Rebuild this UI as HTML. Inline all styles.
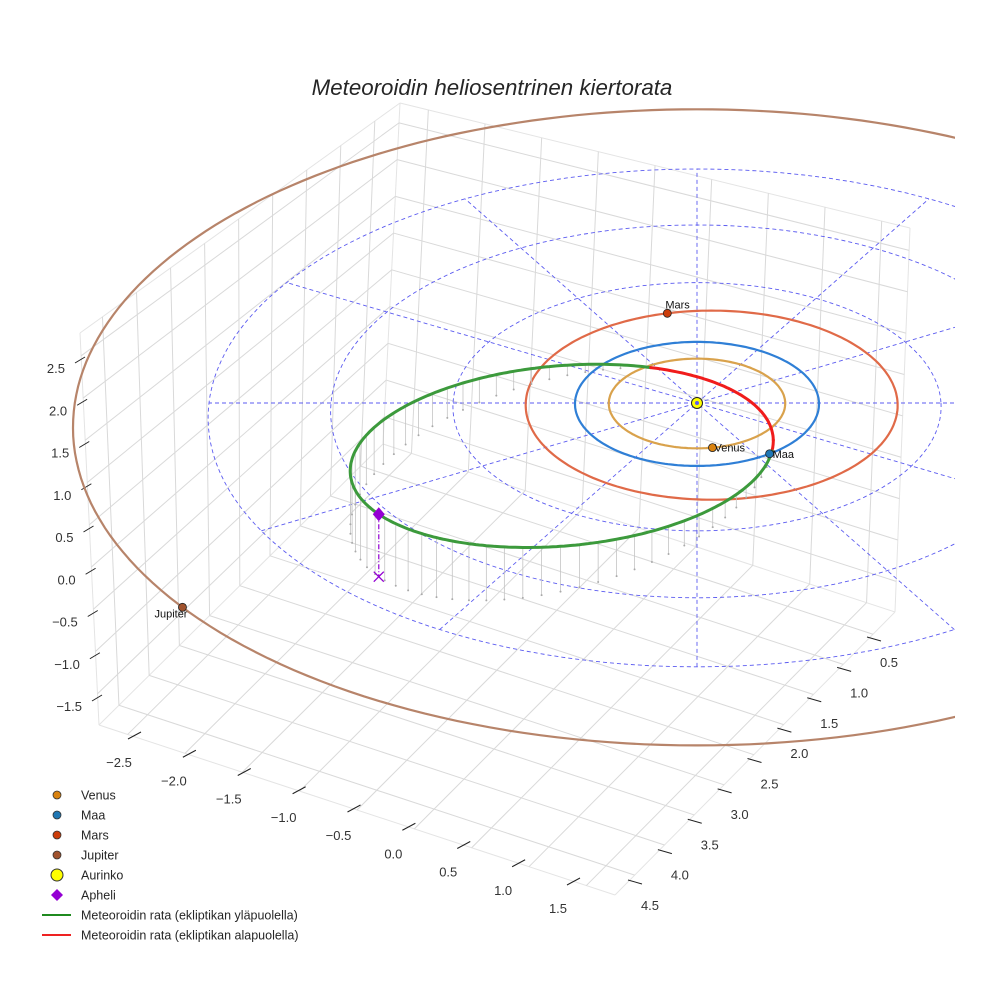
<!DOCTYPE html>
<html><head><meta charset="utf-8">
<style>
html,body{margin:0;padding:0;background:#fff;}
svg{display:block;font-family:"Liberation Sans",sans-serif;}
</style></head>
<body>
<svg id="chart" width="984" height="984" viewBox="0 0 984 984" xmlns="http://www.w3.org/2000/svg">
<rect width="984" height="984" fill="#fff"/>
<defs><clipPath id="clipA"><rect x="0" y="0" width="955" height="984"/></clipPath></defs>
<text x="492" y="95" text-anchor="middle" font-size="22.3" font-style="italic" fill="#262626">Meteoroidin heliosentrinen kiertorata</text>
<g id="box"></g>
<g id="ticks"></g>
<g id="plot" clip-path="url(#clipA)"></g>
<g id="legend"></g>
</svg>
<script>
// ---- data ----
const xTicks = [-2.5,-2.0,-1.5,-1.0,-0.5,0.0,0.5,1.0,1.5];
const yTicks = [0.5,1.0,1.5,2.0,2.5,3.0,3.5,4.0,4.5];
const zTicks = [-1.5,-1.0,-0.5,0.0,0.5,1.0,1.5,2.0,2.5];
const xLim = [-2.75,1.75];
const yLim = [0.13,4.83];
const zLim = [-1.87,2.77];
const planetNames = ["Venus","Maa","Mars","Jupiter"];
const planetRadius = [0.723,1.0,1.524,5.1];
const planetCenterShift = [0,0,0.12,0];
const planetAngle = [80,54,-104,142];
const gridRadii = [1,2,3,4];
const gridAngles = [0,30,60,90,120,150];
const orbitCenter = [-1.07,1.23];
const orbitAxisA = [1.69,-0.67];
const orbitAxisB = [0.0,1.68];
const orbitZ = [0.315,0.39,150];   // offset, amplitude, phase (deg)
const aphelionT = [148];

const NS="http://www.w3.org/2000/svg";
function mk(tag,attrs,parent){const e=document.createElementNS(NS,tag);for(const k in attrs)e.setAttribute(k,attrs[k]);parent.appendChild(e);return e;}
const fmt=v=>(v<0?"\u2212":"")+Math.abs(v).toFixed(1);

// ---- box geometry (screen) ----
const FL=[99,725],FF=[615,895],FR=[895,612],FB=[383,444],TL=[80,333],TB=[400,103],TR=[910,228];
const lerp=(a,b,t)=>[a[0]+(b[0]-a[0])*t,a[1]+(b[1]-a[1])*t];
const fx=x=>(x-xLim[0])/(xLim[1]-xLim[0]);
const fy=y=>(yLim[1]-y)/(yLim[1]-yLim[0]);
const fz=z=>(z-zLim[0])/(zLim[1]-zLim[0]);
const box=document.getElementById('box');
function gl(a,b,name,col){const l=mk('line',{x1:a[0],y1:a[1],x2:b[0],y2:b[1],stroke:col||'#d9d9d9','stroke-width':1},box);
}
[[FL,FB],[FB,FR],[FL,FF],[FF,FR],[FL,TL],[FB,TB],[FR,TR],[TL,TB],[TB,TR]].forEach(p=>gl(p[0],p[1],'pane-edge','#e4e4e4'));
xTicks.forEach(x=>{const t=fx(x);
  gl(lerp(FL,FF,t),lerp(FB,FR,t),'floor-gridline-x');
  gl(lerp(FB,FR,t),lerp(TB,TR,t),'back-gridline-x');});
yTicks.forEach(y=>{const t=fy(y);
  gl(lerp(FF,FR,t),lerp(FL,FB,t),'floor-gridline-y');
  gl(lerp(FL,FB,t),lerp(TL,TB,t),'left-gridline-y');});
zTicks.forEach(z=>{const t=fz(z);
  const l0=lerp(FL,TL,t),b0=lerp(FB,TB,t),r0=lerp(FR,TR,t);
  gl(l0,b0,'left-gridline-z');gl(b0,r0,'back-gridline-z');});

// ---- ticks ----
const tk=document.getElementById('ticks');
function tickLab(a,d,lp,txt,anchor,name){
  const l=mk('line',{x1:a[0],y1:a[1],x2:a[0]+d[0],y2:a[1]+d[1],stroke:'#222','stroke-width':1},tk);
  
  const t=mk('text',{x:a[0]+lp[0],y:a[1]+lp[1],'text-anchor':anchor,'font-size':13,fill:'#333'},tk);
  t.textContent=txt;}
xTicks.forEach(x=>{const t=(x+2.5)/4;const a=lerp([141,732],[580,878],t);tickLab(a,[-13,7],[-22,35],fmt(x),'middle','x-axis');});
yTicks.forEach(y=>{const t=(4.5-y)/4;const a=lerp([628,880],[867,637],t);tickLab(a,[14,4],[22,30],fmt(y),'middle','y-axis');});
zTicks.forEach(z=>{const t=(z+1.5)/4;const a=lerp([102,695],[85,357],t);tickLab(a,[-10,6],[-20,16],fmt(z),'end','z-axis');});

// ---- projection ----
const SX=697,SY=403,KX=122,KY=62,KZ=85,PK=0.015;
function proj(u,v,z){const s=1/(1-PK*v);return [SX+u*KX*s,SY+(v*KY-z*KZ)*s];}
function polar(r,deg){const a=deg*Math.PI/180;return [r*Math.cos(a),r*Math.sin(a)];}
const plot=document.getElementById('plot');
function circlePath(r,cu){cu=cu||0;let d='';for(let i=0;i<=240;i++){const p=polar(r,i*1.5);const q=proj(p[0]+cu,p[1],0);d+=(i?'L':'M')+q[0].toFixed(1)+','+q[1].toFixed(1);}return d+'Z';}

gridRadii.forEach(r=>{const p=mk('path',{d:circlePath(r),fill:'none',stroke:'#5b5bf0','stroke-width':0.9,'stroke-dasharray':'4,3'},plot);
  });
const rMax=gridRadii[gridRadii.length-1];
gridAngles.forEach(a=>{const p1=polar(rMax,a),p2=polar(-rMax,a);const A=proj(p1[0],p1[1],0),B=proj(p2[0],p2[1],0);
  const l=mk('line',{x1:A[0],y1:A[1],x2:B[0],y2:B[1],stroke:'#5b5bf0','stroke-width':0.9,'stroke-dasharray':'4,3'},plot);
  });

const orbitCols=['#d9a24c','#2f7fd6','#e06a48','#b7846a'];
const planetCols=['#d9820f','#1f77b4','#cc3d0a','#a0522d'];
planetRadius.forEach((r,i)=>{const p=mk('path',{d:circlePath(r,planetCenterShift[i]),fill:'none',stroke:orbitCols[i],'stroke-width':2.2},plot);
  });

function orbitPt(tdeg){const t=tdeg*Math.PI/180;
  const u=orbitCenter[0]+orbitAxisA[0]*Math.cos(t)+orbitAxisB[0]*Math.sin(t);
  const v=orbitCenter[1]+orbitAxisA[1]*Math.cos(t)+orbitAxisB[1]*Math.sin(t);
  const z=orbitZ[0]+orbitZ[1]*Math.cos((tdeg-orbitZ[2])*Math.PI/180);return [u,v,z];}
for(let t=0;t<360;t+=5){const o=orbitPt(t);if(o[2]<=0.03)continue;const A=proj(o[0],o[1],o[2]),B=proj(o[0],o[1],0);
  const l=mk('line',{x1:A[0],y1:A[1],x2:B[0],y2:B[1],stroke:'#c4c4c4','stroke-width':0.8},plot);
  
  const c=mk('circle',{cx:B[0],cy:B[1],r:1,fill:'#aaa'},plot);
  }
let seg=[],sign=null;
function flush(){if(seg.length>1){const d=seg.map((q,i)=>(i?'L':'M')+q[0].toFixed(1)+','+q[1].toFixed(1)).join('');
  const p=mk('path',{d:d,fill:'none',stroke:sign?'#3c9a3c':'#f01c1c','stroke-width':3,'stroke-linecap':'round'},plot);
  }}
for(let t=0;t<=360;t+=1){const o=orbitPt(t);const s=o[2]>=0;const q=proj(o[0],o[1],o[2]);
  if(sign===null)sign=s;
  if(s!==sign){seg.push(q);flush();seg=[q];sign=s;}else seg.push(q);}
flush();

const ap=orbitPt(aphelionT[0]);const AP=proj(ap[0],ap[1],ap[2]),AX=proj(ap[0],ap[1],0);
let e=mk('line',{x1:AP[0],y1:AP[1],x2:AX[0],y2:AX[1],stroke:'#9400d3','stroke-width':1.2,'stroke-dasharray':'5,2,1,2'},plot);

e=mk('path',{d:`M${AX[0]-5},${AX[1]-5}L${AX[0]+5},${AX[1]+5}M${AX[0]-5},${AX[1]+5}L${AX[0]+5},${AX[1]-5}`,stroke:'#9400d3','stroke-width':1.3},plot);

e=mk('path',{d:`M${AP[0]},${AP[1]-7}L${AP[0]+6},${AP[1]}L${AP[0]},${AP[1]+7}L${AP[0]-6},${AP[1]}Z`,fill:'#9400d3'},plot);


const S=proj(0,0,0);
e=mk('circle',{cx:S[0],cy:S[1],r:5.5,fill:'#ffff00',stroke:'#222','stroke-width':1},plot);

e=mk('circle',{cx:S[0],cy:S[1],r:2,fill:'#5b5bf0'},plot);


const labOff=[[2,4],[3,4],[-2,-5],[-28,10]];
planetRadius.forEach((r,i)=>{const p=polar(r,planetAngle[i]);const q=proj(p[0]+planetCenterShift[i],p[1],0);
  const c=mk('circle',{cx:q[0],cy:q[1],r:4,fill:planetCols[i],stroke:'#222','stroke-width':0.8},plot);
  
  const t=mk('text',{x:q[0]+labOff[i][0],y:q[1]+labOff[i][1],'font-size':11,fill:'#111'},plot);
  t.textContent=planetNames[i];
  });

const lg=document.getElementById('legend');
const legendItems=[["Venus","c",planetCols[0]],["Maa","c",planetCols[1]],["Mars","c",planetCols[2]],["Jupiter","c",planetCols[3]],["Aurinko","s","#ffff00"],["Apheli","d","#9400d3"],["Meteoroidin rata (ekliptikan yläpuolella)","l","#1f8a1f"],["Meteoroidin rata (ekliptikan alapuolella)","l","#ee2222"]];
legendItems.forEach((it,i)=>{const y=795+i*20;const g=mk('g',{},lg);
  
  if(it[1]==='c')mk('circle',{cx:57,cy:y,r:4,fill:it[2],stroke:'#333','stroke-width':0.8},g);
  else if(it[1]==='s')mk('circle',{cx:57,cy:y,r:6,fill:it[2],stroke:'#333','stroke-width':1},g);
  else if(it[1]==='d')mk('path',{d:`M57,${y-6}L63,${y}L57,${y+6}L51,${y}Z`,fill:it[2]},g);
  else mk('line',{x1:42,y1:y,x2:71,y2:y,stroke:it[2],'stroke-width':2},g);
  const t=mk('text',{x:81,y:y+4.5,'font-size':12.5,fill:'#262626'},g);t.textContent=it[0];});
</script>
</body></html>
